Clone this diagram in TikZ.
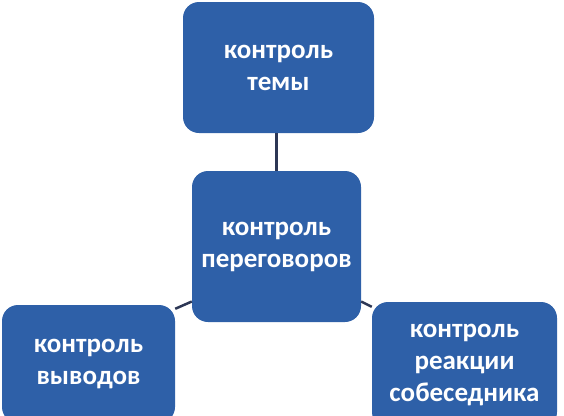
\documentclass[tikz,border=0pt]{standalone}
\usepackage{fontspec}
\setmainfont{Carlito}
\definecolor{boxblue}{RGB}{46,96,168}
\definecolor{linkgray}{RGB}{45,55,85}
\begin{document}
\begin{tikzpicture}[x=1pt,y=-1pt,
    control/.style ={rectangle, rounded corners=16pt, fill=boxblue, text=white, inner sep=0pt,
      align=center, font=\bfseries\fontsize{27}{32}\selectfont},
    link/.style ={draw=linkgray, line width=2.5pt}]
   \useasboundingbox (0,0) rectangle (564,415);
   \clip (0,0) rectangle (564,415);
   \node[control, minimum width=191pt, minimum height=131pt] (topic)  at (278.5,67.5)  {контроль\\темы};
   \node[control, minimum width=169pt, minimum height=151pt] (talks)  at (276.5,246.5)  {контроль\\переговоров};
   \node[control, minimum width=173pt, minimum height=118pt] (conclusions)  at (88.5,364)  {контроль\\выводов};
   \node[control, minimum width=185pt, minimum height=126pt] (reaction)  at (464.5,365)  {контроль\\реакции\\собеседника};
   \draw[link] (talks.north) -- (talks.north |- topic.south);
   \draw[link] (talks.-147) -- ([yshift=-4pt]conclusions.north east);
   \draw[link] (talks.-33) -- ([yshift=-5pt]reaction.north west);
 \end{tikzpicture}
\end{document}
